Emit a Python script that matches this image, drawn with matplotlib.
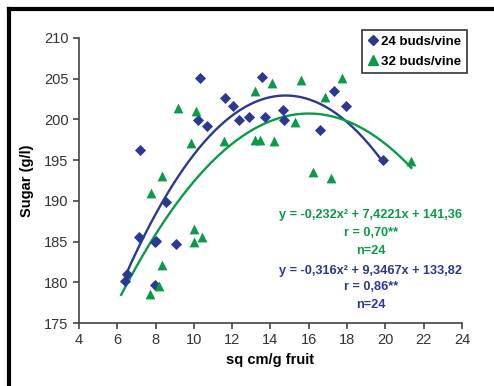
import numpy as np
import matplotlib.pyplot as plt
from matplotlib.lines import Line2D

plt.rcParams['font.family'] = ['Liberation Sans', 'DejaVu Sans']

# 24 buds/vine
x24 = [6.41, 6.50, 7.14, 7.19, 7.98, 7.98, 8.55, 9.04, 10.19, 10.34, 10.70, 11.61,
       12.05, 12.34, 12.90, 13.55, 13.74, 14.66, 14.72, 16.58, 17.30, 17.94, 19.90, 8.02]
y24 = [180.1, 181.0, 185.6, 196.3, 185.0, 179.7, 189.9, 184.7, 199.9, 205.1, 199.2, 202.6,
       201.7, 199.9, 200.3, 205.2, 200.3, 201.2, 199.9, 198.7, 203.5, 201.7, 195.0, 185.1]

# 32 buds/vine
x32 = [7.72, 7.75, 8.17, 8.35, 8.35, 9.17, 9.86, 9.99, 10.02, 10.09, 10.42, 11.56,
       13.18, 13.21, 13.44, 14.10, 14.17, 15.27, 15.59, 16.20, 16.83, 17.18, 17.75, 21.36]
y32 = [178.6, 191.0, 179.5, 182.1, 193.0, 201.4, 197.1, 186.5, 184.9, 201.0, 185.5, 197.4,
       203.5, 197.5, 197.5, 204.5, 197.4, 199.7, 204.9, 193.5, 202.7, 192.8, 205.1, 194.9]

# fitted polynomials as printed on the chart
coef24 = [-0.316, 9.3467, 133.82]
coef32 = [-0.232, 7.4221, 141.36]

BLUE = '#2B3990'
GREEN = '#0A9A48'

fig = plt.figure(figsize=(4.94, 3.86), dpi=100)
ax = fig.add_axes([0.160, 0.1632, 0.775, 0.7384])

ax.scatter(x24, y24, marker='D', s=32, color=BLUE, zorder=3, linewidths=0)
ax.scatter(x32, y32, marker='^', s=50, color=GREEN, zorder=3, linewidths=0)

xs24 = np.linspace(min(x24), max(x24), 200)
xs32 = np.linspace(6.2, max(x32), 200)
ax.plot(xs24, np.polyval(coef24, xs24), color=BLUE, lw=1.7, zorder=2)
ax.plot(xs32, np.polyval(coef32, xs32), color=GREEN, lw=1.7, zorder=2)

ax.set_xlim(4, 24)
ax.set_ylim(175, 210)
ax.set_xticks(range(4, 25, 2))
ax.set_yticks(range(175, 211, 5))
ax.spines['top'].set_visible(False)
ax.spines['right'].set_visible(False)
for s in ['left', 'bottom']:
    ax.spines[s].set_color('#444444')
    ax.spines[s].set_linewidth(1.2)
ax.tick_params(direction='out', length=4, width=1.2, color='#444444',
               labelsize=10.5, labelcolor='#333333')

ax.set_xlabel('sq cm/g fruit', fontsize=10.5, fontweight='bold', labelpad=4)
ax.set_ylabel('Sugar (g/l)', fontsize=10.5, fontweight='bold', labelpad=7)

# equations
tx = 0.762
eq_lines = [('y = -0,232x² + 7,4221x + 141,36', 0.379, GREEN),
            ('r = 0,70**', 0.317, GREEN),
            ('n=24', 0.254, GREEN),
            ('y = -0,316x² + 9,3467x + 133,82', 0.184, BLUE),
            ('r = 0,86**', 0.126, BLUE),
            ('n=24', 0.063, BLUE)]
for txt, ty, col in eq_lines:
    ax.text(tx, ty, txt, transform=ax.transAxes, ha='center', va='center',
            color=col, fontsize=9.2, fontweight='bold')

handles = [Line2D([], [], marker='D', ls='', color=BLUE, markersize=5),
           Line2D([], [], marker='^', ls='', color=GREEN, markersize=6.5)]
leg = ax.legend(handles, ['24 buds/vine', '32 buds/vine'], loc='upper right',
                bbox_to_anchor=(1.03, 1.05), fancybox=False, edgecolor='#333333',
                framealpha=1, handletextpad=0.1, handlelength=1.0,
                borderpad=0.4, labelspacing=0.6,
                prop={'weight': 'bold', 'size': 9.5})
leg.get_frame().set_linewidth(1.2)

# outer frame (top and left edges visible)
fig.add_artist(Line2D([0.0182, 1.0], [0.9754, 0.9754], transform=fig.transFigure,
                      color='black', lw=3))
fig.add_artist(Line2D([0.0192, 0.0192], [0.0, 0.9774], transform=fig.transFigure,
                      color='black', lw=3))

fig.savefig('out.png', dpi=100)
